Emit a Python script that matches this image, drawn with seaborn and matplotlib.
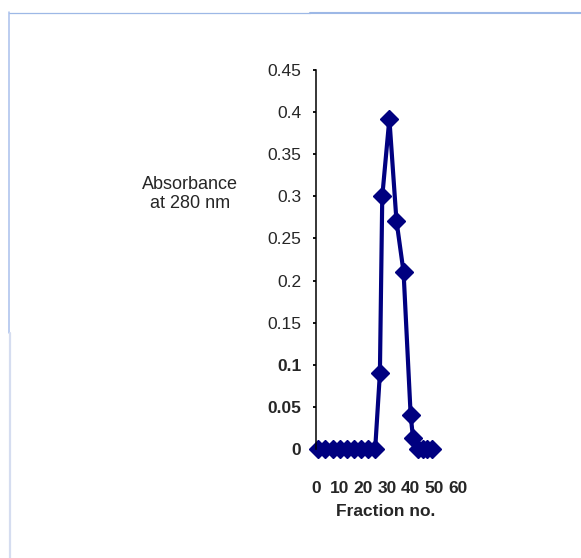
import matplotlib
matplotlib.use("Agg")
import matplotlib.pyplot as plt
from matplotlib.lines import Line2D
import pandas as pd
import seaborn as sns

# dane
fraction = [1, 4, 7, 10, 13, 16, 19, 22, 25, 27, 28, 31, 34, 37, 40, 41, 43, 45, 47, 49]
absorbance = [0, 0, 0, 0, 0, 0, 0, 0, 0, 0.09, 0.30, 0.392, 0.271, 0.21, 0.04, 0.013, 0, 0, 0, 0]

x_ticks = [0, 10, 20, 30, 40, 50, 60]
y_ticks = [0, 0.05, 0.1, 0.15, 0.2, 0.25, 0.3, 0.35, 0.4, 0.45]
y_ticklabels = ["0", "0.05", "0.1", "0.15", "0.2", "0.25", "0.3", "0.35", "0.4", "0.45"]

df = pd.DataFrame({"Fraction": fraction, "Absorbance": absorbance})

sns.set_style("white")
plt.rcParams["font.family"] = ["Liberation Sans", "DejaVu Sans"]

W, H = 581, 558
fig = plt.figure(figsize=(W / 100, H / 100), dpi=100)

# os: x=0 przy 316 px, 60 przy 458 px; y=0.45 przy 70 px, 0 przy 449 px
ax = fig.add_axes([316 / W, 1 - 478.5 / H, 142 / W, (478.5 - 70) / H])

sns.lineplot(data=df, x="Fraction", y="Absorbance", ax=ax, color="#000080",
             linewidth=3.0, marker="D", markersize=9,
             markeredgecolor="#000080", markeredgewidth=1, clip_on=False)

ax.set_xlim(0, 60)
ax.set_ylim(-0.035, 0.45)
ax.set_xticks(x_ticks)
ax.set_xticklabels([str(t) for t in x_ticks], fontsize=12.5, fontweight="bold")
ax.set_yticks(y_ticks)
ax.set_yticklabels(y_ticklabels, fontsize=12.5)
for lab in ax.get_yticklabels()[:3]:
    lab.set_fontweight("bold")

for s in ["top", "right", "bottom"]:
    ax.spines[s].set_visible(False)
ax.spines["left"].set_bounds(0, 0.45)
ax.spines["left"].set_color("black")
ax.spines["left"].set_linewidth(1.1)

ax.tick_params(axis="x", length=0, pad=2)
ax.tick_params(axis="y", direction="out", length=2.5, width=1.3, pad=8,
               left=True, color="black")

ax.set_xlabel("Fraction no.", fontsize=12.5, fontweight="bold")
ax.xaxis.set_label_coords(386 / W, 1 - 512 / H, transform=fig.transFigure)
ax.xaxis.label.set_va("center")

ax.set_ylabel("Absorbance\nat 280 nm", fontsize=13, rotation=0,
              ha="center", va="center", linespacing=1.1)
ax.yaxis.set_label_coords(190 / W, 1 - 194 / H, transform=fig.transFigure)

# ramka wokol wykresu
def px_line(x0, y0, x1, y1, color, lw):
    fig.add_artist(Line2D([x0 / W, x1 / W], [1 - y0 / H, 1 - y1 / H],
                          transform=fig.transFigure, color=color, linewidth=lw))

px_line(9, 12.5, 310, 12.5, "#9db8e6", 0.9)
px_line(310, 13.2, W, 13.2, "#9db8e6", 1.5)
px_line(9.3, 12, 9.3, 333, "#a9c0ec", 1.1)
px_line(9.8, 333, 9.8, H, "#d5ddf0", 1.6)

fig.savefig("out.png", dpi=100)
